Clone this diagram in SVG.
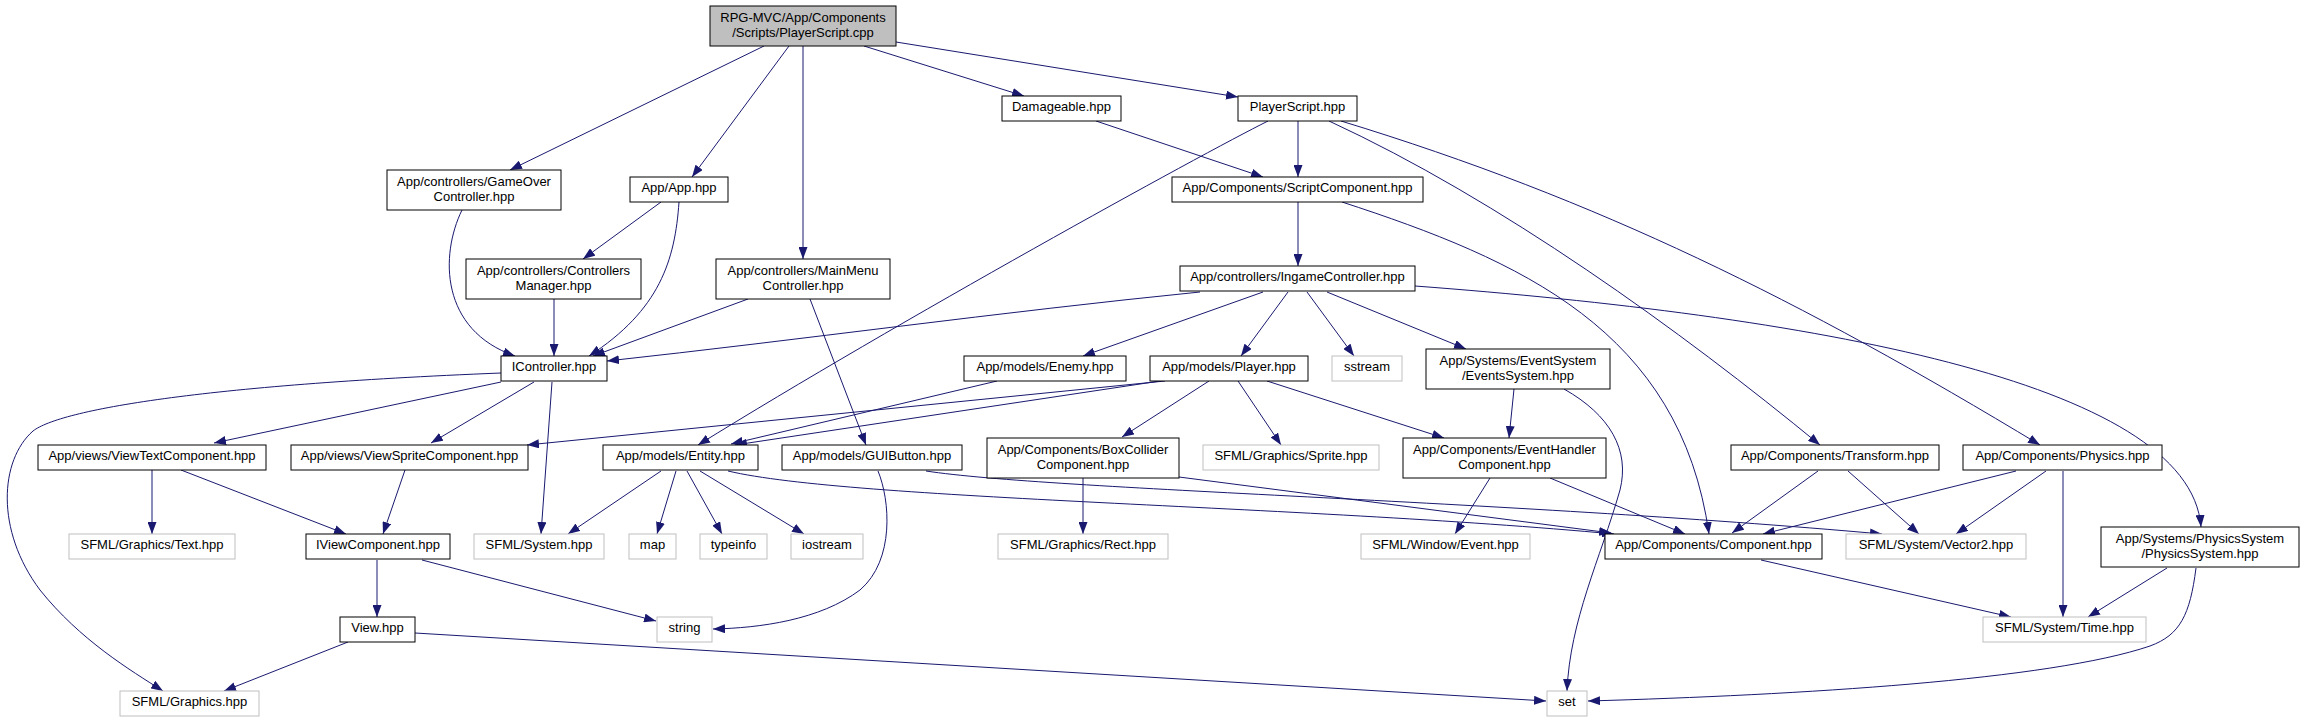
<svg xmlns="http://www.w3.org/2000/svg" width="2304" height="723" viewBox="0 0 2304 723">
<style>
.n rect{fill:#fff;stroke:#000;stroke-width:1}
.g rect{fill:#fff;stroke:#bfbfbf;stroke-width:1}
.r rect{fill:#bfbfbf;stroke:#000;stroke-width:1}
text{font-family:"Liberation Sans",Arial,sans-serif;font-size:13px;fill:#000;text-anchor:middle}
#edges path{fill:none;stroke:#191970;stroke-width:1;marker-end:url(#arr)}
</style>
<defs>
<marker id="arr" markerUnits="userSpaceOnUse" markerWidth="12" markerHeight="9" refX="12" refY="4.5" orient="auto">
<path d="M0,0 L12,4.5 L0,9 z" fill="#191970"/>
</marker>
</defs>
<rect width="2304" height="723" fill="#fff"/>
<g id="edges">
<path d="M764,46 L510,170"/>
<path d="M789,46 L692,177"/>
<path d="M803,46 L803,259"/>
<path d="M864,46 L1024,96"/>
<path d="M896,42 L1238,97"/>
<path d="M661,202 L583,259"/>
<path d="M679,202 C675,260 660,310 589,356"/>
<path d="M462,210 C440,255 440,330 515,356"/>
<path d="M554,299 L554,356"/>
<path d="M748,299 L593,356"/>
<path d="M810,299 L866,445"/>
<path d="M1096,121 L1263,177"/>
<path d="M1298,121 L1298,177"/>
<path d="M1268,121 C1200,155 900,320 698,445"/>
<path d="M1329,121 C1500,200 1680,330 1820,445"/>
<path d="M1341,121 C1600,200 1800,300 2040,445"/>
<path d="M1298,202 L1298,266"/>
<path d="M1342,202 C1520,260 1680,330 1709,534"/>
<path d="M1200,292 C1000,312 800,340 607,361"/>
<path d="M1263,292 L1083,356"/>
<path d="M1288,292 L1241,356"/>
<path d="M1307,292 L1354,356"/>
<path d="M1327,292 L1466,349"/>
<path d="M1415,286 C1800,315 2190,380 2201,527"/>
<path d="M1165,381 L527,445"/>
<path d="M1160,381 L735,445"/>
<path d="M1209,381 L1122,437"/>
<path d="M1238,381 L1281,445"/>
<path d="M1267,381 L1444,438"/>
<path d="M997,381 L731,444"/>
<path d="M1514,389 L1509,438"/>
<path d="M1564,389 C1610,415 1630,450 1620,490 C1600,560 1570,620 1567,691"/>
<path d="M152,470 L152,534"/>
<path d="M181,470 L346,534"/>
<path d="M405,470 L383,534"/>
<path d="M501,382 L214,443"/>
<path d="M534,382 L431,443"/>
<path d="M552,382 L541,534"/>
<path d="M501,373 C200,385 60,410 33,431 C0,460 -5,530 40,590 C80,640 130,670 163,691"/>
<path d="M377,560 L377,617"/>
<path d="M422,560 L656,621"/>
<path d="M348,642 L224,691"/>
<path d="M415,633 L1546,701"/>
<path d="M661,471 L568,534"/>
<path d="M676,471 L657,534"/>
<path d="M687,471 L722,534"/>
<path d="M700,471 L804,534"/>
<path d="M728,471 C850,500 1300,505 1614,534"/>
<path d="M926,471 C1050,490 1500,500 1882,534"/>
<path d="M878,471 C890,500 895,560 860,590 C820,620 760,628 713,629"/>
<path d="M1083,478 L1083,534"/>
<path d="M1179,477 L1611,533"/>
<path d="M1490,478 L1455,534"/>
<path d="M1550,478 L1685,534"/>
<path d="M1818,471 L1732,533"/>
<path d="M1848,471 L1919,534"/>
<path d="M2016,471 L1763,534"/>
<path d="M2046,471 L1956,534"/>
<path d="M2063,471 L2063,617"/>
<path d="M2167,568 L2088,617"/>
<path d="M2196,568 C2190,615 2180,635 2150,646 C2050,680 1800,695 1588,701"/>
<path d="M1761,560 L2011,617"/>
</g>
<g id="root" class="r"><rect x="710" y="6" width="186" height="40"/><text x="803" y="22">RPG-MVC/App/Components</text><text x="803" y="37">/Scripts/PlayerScript.cpp</text></g>
<g id="damageable" class="n"><rect x="1002" y="96" width="119" height="25"/><text x="1061.5" y="111">Damageable.hpp</text></g>
<g id="playerscript" class="n"><rect x="1238" y="96" width="119" height="25"/><text x="1297.5" y="111">PlayerScript.hpp</text></g>
<g id="gameover" class="n"><rect x="387" y="170" width="174" height="40"/><text x="474" y="186">App/controllers/GameOver</text><text x="474" y="201">Controller.hpp</text></g>
<g id="app" class="n"><rect x="630" y="177" width="98" height="25"/><text x="679" y="192">App/App.hpp</text></g>
<g id="scriptcomp" class="n"><rect x="1172" y="177" width="251" height="25"/><text x="1297.5" y="192">App/Components/ScriptComponent.hpp</text></g>
<g id="ctrlmgr" class="n"><rect x="466" y="259" width="175" height="40"/><text x="553.5" y="275">App/controllers/Controllers</text><text x="553.5" y="290">Manager.hpp</text></g>
<g id="mainmenu" class="n"><rect x="716" y="259" width="174" height="40"/><text x="803" y="275">App/controllers/MainMenu</text><text x="803" y="290">Controller.hpp</text></g>
<g id="ingame" class="n"><rect x="1180" y="266" width="235" height="25"/><text x="1297.5" y="281">App/controllers/IngameController.hpp</text></g>
<g id="icontroller" class="n"><rect x="501" y="356" width="106" height="25"/><text x="554" y="371">IController.hpp</text></g>
<g id="enemy" class="n"><rect x="964" y="356" width="162" height="25"/><text x="1045" y="371">App/models/Enemy.hpp</text></g>
<g id="player" class="n"><rect x="1150" y="356" width="158" height="25"/><text x="1229" y="371">App/models/Player.hpp</text></g>
<g id="sstream" class="g"><rect x="1332" y="356" width="70" height="25"/><text x="1367" y="371">sstream</text></g>
<g id="eventssys" class="n"><rect x="1426" y="349" width="184" height="40"/><text x="1518" y="365">App/Systems/EventSystem</text><text x="1518" y="380">/EventsSystem.hpp</text></g>
<g id="viewtext" class="n"><rect x="38" y="445" width="228" height="25"/><text x="152" y="460">App/views/ViewTextComponent.hpp</text></g>
<g id="viewsprite" class="n"><rect x="291" y="445" width="237" height="25"/><text x="409.5" y="460">App/views/ViewSpriteComponent.hpp</text></g>
<g id="entity" class="n"><rect x="603" y="445" width="155" height="25"/><text x="680.5" y="460">App/models/Entity.hpp</text></g>
<g id="guibutton" class="n"><rect x="782" y="445" width="180" height="25"/><text x="872" y="460">App/models/GUIButton.hpp</text></g>
<g id="boxcollider" class="n"><rect x="987" y="438" width="192" height="40"/><text x="1083" y="454">App/Components/BoxCollider</text><text x="1083" y="469">Component.hpp</text></g>
<g id="sprite" class="g"><rect x="1203" y="445" width="176" height="25"/><text x="1291" y="460">SFML/Graphics/Sprite.hpp</text></g>
<g id="eventhandler" class="n"><rect x="1403" y="438" width="203" height="40"/><text x="1504.5" y="454">App/Components/EventHandler</text><text x="1504.5" y="469">Component.hpp</text></g>
<g id="transform" class="n"><rect x="1731" y="445" width="208" height="25"/><text x="1835" y="460">App/Components/Transform.hpp</text></g>
<g id="physics" class="n"><rect x="1963" y="445" width="199" height="25"/><text x="2062.5" y="460">App/Components/Physics.hpp</text></g>
<g id="text" class="g"><rect x="69" y="534" width="166" height="25"/><text x="152" y="549">SFML/Graphics/Text.hpp</text></g>
<g id="iview" class="n"><rect x="306" y="534" width="144" height="25"/><text x="378" y="549">IViewComponent.hpp</text></g>
<g id="system" class="g"><rect x="474" y="534" width="130" height="25"/><text x="539" y="549">SFML/System.hpp</text></g>
<g id="map" class="g"><rect x="629" y="534" width="47" height="25"/><text x="652.5" y="549">map</text></g>
<g id="typeinfo" class="g"><rect x="700" y="534" width="67" height="25"/><text x="733.5" y="549">typeinfo</text></g>
<g id="iostream" class="g"><rect x="791" y="534" width="72" height="25"/><text x="827" y="549">iostream</text></g>
<g id="rect" class="g"><rect x="998" y="534" width="170" height="25"/><text x="1083" y="549">SFML/Graphics/Rect.hpp</text></g>
<g id="winevent" class="g"><rect x="1361" y="534" width="169" height="25"/><text x="1445.5" y="549">SFML/Window/Event.hpp</text></g>
<g id="component" class="n"><rect x="1605" y="534" width="217" height="25"/><text x="1713.5" y="549">App/Components/Component.hpp</text></g>
<g id="vector2" class="g"><rect x="1846" y="534" width="180" height="25"/><text x="1936" y="549">SFML/System/Vector2.hpp</text></g>
<g id="physsys" class="n"><rect x="2101" y="527" width="198" height="40"/><text x="2200" y="543">App/Systems/PhysicsSystem</text><text x="2200" y="558">/PhysicsSystem.hpp</text></g>
<g id="view" class="n"><rect x="340" y="617" width="75" height="25"/><text x="377.5" y="632">View.hpp</text></g>
<g id="string" class="g"><rect x="657" y="617" width="55" height="25"/><text x="684.5" y="632">string</text></g>
<g id="time" class="g"><rect x="1983" y="617" width="163" height="25"/><text x="2064.5" y="632">SFML/System/Time.hpp</text></g>
<g id="graphics" class="g"><rect x="120" y="691" width="139" height="25"/><text x="189.5" y="706">SFML/Graphics.hpp</text></g>
<g id="set" class="g"><rect x="1547" y="691" width="40" height="25"/><text x="1567" y="706">set</text></g>
</svg>
